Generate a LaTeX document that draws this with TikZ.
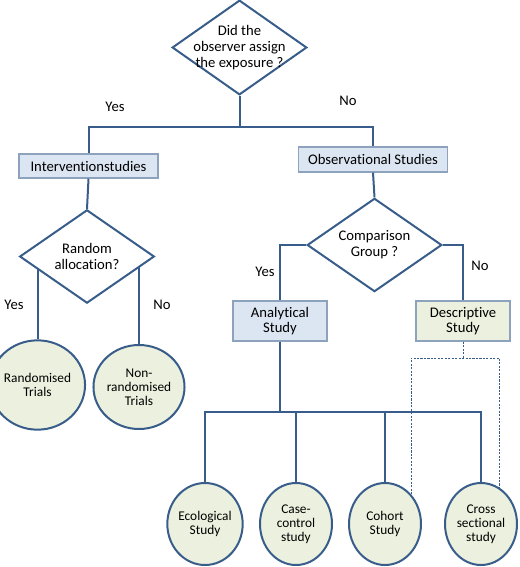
\documentclass[tikz,border=0pt]{standalone}
\usepackage{fontspec}
\setmainfont[Ligatures=NoCommon]{Carlito}
\usetikzlibrary{shapes.geometric}
\definecolor{lnblue}{HTML}{385D8A}
\definecolor{bxedge}{HTML}{8DA2BD}
\definecolor{bxblue}{HTML}{DCE6F2}
\definecolor{bxgreen}{HTML}{EBF1DE}
\tikzset{dm/.style = {diamond, draw=lnblue, line width=1.5pt, fill=white, inner sep=0pt},
         bx/.style = {rectangle, draw=bxedge, line width=1.1pt, fill=bxblue, align=center,
                      font=\fontsize{11}{11.5}\selectfont, inner sep=0pt},
         gx/.style = {bx, fill=bxgreen},
         ov/.style = {ellipse, draw=lnblue, line width=1.5pt, fill=bxgreen, align=center,
                      inner sep=0pt, font=\fontsize{10}{10.5}\selectfont},
         ln/.style = {draw=lnblue, line width=1.5pt},
         dl/.style = {draw=lnblue, line width=0.6pt, dash pattern=on 1.6pt off 1pt},
         lb/.style = {font=\fontsize{11}{12}\selectfont}}

\begin{document}
\begin{tikzpicture}[x=0.75pt, y=-0.75pt]
    \useasboundingbox (0,0) rectangle (519,567);
    \node[dm, minimum width=101pt, minimum height=71pt,
          label={[align=center, lb]center:Did the\\observer assign\\the exposure ?}] (q1) at (239.5,47.5) {};
    \node[bx, minimum width=104pt, minimum height=18pt] (inter) at (88.5,166) {Interventionstudies};
    \node[bx, minimum width=112pt, minimum height=18.5pt] (obs) at (373,159.5) {Observational Studies};
    \node[dm, minimum width=101pt, minimum height=70pt,
          label={[align=center, lb]center:Random\\allocation?}] (q2) at (87,256.5) {};
    \node[dm, minimum width=101pt, minimum height=70pt,
          label={[align=center, lb]center:Comparison\\Group ?}] (q3) at (374.5,245) {};
    \node[ov, minimum width=55pt, minimum height=67pt] (rand) at (37.5,385) {Randomised\\Trials};
    \node[ov, minimum width=55pt, minimum height=63pt] (nrand) at (139,387) {Non-\\randomised\\Trials};
    \node[bx, minimum width=70.5pt, minimum height=30pt] (anal) at (280,321) {Analytical\\Study};
    \node[gx, minimum width=70.5pt, minimum height=30pt] (desc) at (463,321) {Descriptive\\Study};
    \node[ov, minimum width=54pt, minimum height=61.5pt] (eco) at (205,524) {Ecological\\Study};
    \node[ov, minimum width=54pt, minimum height=61.5pt] (case) at (296,524) {Case-\\control\\study};
    \node[ov, minimum width=54pt, minimum height=61.5pt] (coh) at (385,524) {Cohort\\Study};
    \node[ov, minimum width=54pt, minimum height=61.5pt] (cross) at (481,524) {Cross\\sectional\\study};
    \node[lb] (y1) at (115,107) {Yes};
    \node[lb] (n1) at (348,101) {No};
    \node[lb] (y2) at (14,305) {Yes};
    \node[lb] (n2) at (162,305) {No};
    \node[lb] (y3) at (265,272) {Yes};
    \node[lb] (n3) at (480,266) {No};
    \coordinate (j1) at (239.5,127);
    \coordinate (j2) at (280,412);
    \coordinate (dj) at (463,358);
    \draw[ln] (q1.south) -- (j1);
    \draw[ln] (inter.north) |- (j1) -| (obs.north);
    \draw[ln] (inter.south) -- (q2.north);
    \draw[ln] (rand.north) -- (rand.north |- q2.193.9);
    \draw[ln] (nrand.north) -- (nrand.north |- q2.-11.4);
    \draw[ln] (obs.south) -- (q3.north);
    \draw[ln] (q3.west) -| (anal.north);
    \draw[ln] (q3.east) -| (desc.north);
    \draw[ln] (anal.south) -- (j2);
    \draw[ln] (eco.north) |- (j2) -| (cross.north);
    \draw[ln] (case.north) -- (case.north |- j2);
    \draw[ln] (coh.north) -- (coh.north |- j2);
    \draw[dl] (desc.south) -- (dj);
    \draw[dl] (coh.49.7) -- (coh.49.7 |- dj) -- (cross.63.1 |- dj) -- (cross.63.1);
\end{tikzpicture}
\end{document}
